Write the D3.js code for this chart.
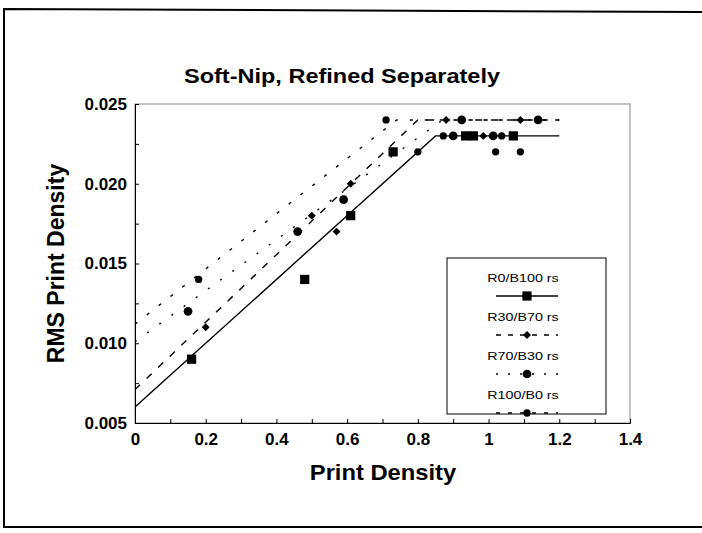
<!DOCTYPE html>
<html>
<head>
<meta charset="utf-8">
<script src="https://cdn.jsdelivr.net/npm/d3@7"></script>
<style>
  body { margin: 0; background: #fff; }
  svg text { font-family: "Liberation Sans", Arial, sans-serif; fill: #000; }
</style>
</head>
<body>
<div id="chart"></div>
<script>
// tick labels
var xTicks = [0, 0.2, 0.4, 0.6, 0.8, 1, 1.2, 1.4];
var yTicks = [0.005, 0.010, 0.015, 0.020, 0.025];

// series (print density, rms print density)
var seriesNames = ["R0/B100 rs", "R30/B70 rs", "R70/B30 rs", "R100/B0 rs"];

var r0b100X = [0.16, 0.48, 0.61, 0.73, 0.935, 0.957, 1.07];
var r0b100Y = [0.009, 0.014, 0.018, 0.022, 0.023, 0.023, 0.023];

var r30b70X = [0.20, 0.50, 0.57, 0.61, 0.88, 0.985, 1.09];
var r30b70Y = [0.011, 0.018, 0.017, 0.020, 0.024, 0.023, 0.024];

var r70b30X = [0.15, 0.46, 0.59, 0.90, 0.924, 1.013, 1.14];
var r70b30Y = [0.012, 0.017, 0.019, 0.023, 0.024, 0.023, 0.024];

var r100b0X = [0.18, 0.71, 0.80, 0.872, 1.02, 1.037, 1.09];
var r100b0Y = [0.014, 0.024, 0.022, 0.023, 0.022, 0.023, 0.022];

// fitted broken-line trends
var r0b100FitX = [0, 0.85, 1.2];
var r0b100FitY = [0.006, 0.023, 0.023];
var r30b70FitX = [0, 0.80, 1.2];
var r30b70FitY = [0.0071, 0.024, 0.024];
var r70b30FitX = [0, 0.87, 1.2];
var r70b30FitY = [0.0101, 0.024, 0.024];
var r100b0FitX = [0, 0.74, 1.2];
var r100b0FitY = [0.0112, 0.024, 0.024];

var W = 702, H = 533;
var margin = {top: 104, right: 72, bottom: 110, left: 135};
var width = W - margin.left - margin.right;
var height = H - margin.top - margin.bottom;

var svg = d3.select("#chart").append("svg")
    .attr("width", W)
    .attr("height", H);

// outer frame (right edge is cut off)
svg.append("path")
  .attr("fill", "none")
  .attr("stroke", "#000")
  .attr("stroke-width", 2)
  .attr("d", "M" + (W + 2) + ",12 L4,9 L4,527 L" + (W + 2) + ",527");

svg.append("text")
  .attr("transform", "translate(342,83) scale(1.12,1)")
  .attr("text-anchor", "middle")
  .attr("font-size", 21)
  .attr("font-weight", "bold")
  .text("Soft-Nip, Refined Separately");

var g = svg.append("g")
  .attr("transform", "translate(" + margin.left + "," + margin.top + ")");

var x = d3.scaleLinear().domain([0, 1.4]).range([0, width]);
var y = d3.scaleLinear().domain([0.005, 0.025]).range([height, 0]);

// plot border
g.append("rect")
  .attr("width", width)
  .attr("height", height)
  .attr("fill", "none")
  .attr("stroke", "#888")
  .attr("stroke-width", 1);

// axes with inward ticks
var xAxis = g.append("g")
  .attr("transform", "translate(0," + height + ")")
  .call(d3.axisBottom(x).tickValues(d3.range(0, 1.45, 0.1)).tickSize(-4).tickFormat(""));
xAxis.select(".domain").attr("stroke", "#000");

g.append("g")
  .attr("transform", "translate(0," + height + ")")
  .call(d3.axisBottom(x).tickValues(xTicks).tickSize(0).tickPadding(10).tickFormat(d3.format("")))
  .call(a => a.select(".domain").remove())
  .selectAll("text")
  .attr("font-size", 17)
  .attr("font-weight", "bold");

var yAxis = g.append("g")
  .call(d3.axisLeft(y).tickValues(d3.range(0.005, 0.0251, 0.0025)).tickSize(-4).tickFormat(""));
yAxis.select(".domain").attr("stroke", "#000");

g.append("g")
  .call(d3.axisLeft(y).tickValues(yTicks).tickSize(0).tickPadding(8).tickFormat(d3.format(".3f")))
  .call(a => a.select(".domain").remove())
  .selectAll("text")
  .attr("font-size", 17)
  .attr("font-weight", "bold");

svg.append("text")
  .attr("transform", "translate(383,480) scale(1.08,1)")
  .attr("text-anchor", "middle")
  .attr("font-size", 22)
  .attr("font-weight", "bold")
  .text("Print Density");

svg.append("text")
  .attr("transform", "translate(64," + (margin.top + height / 2) + ") rotate(-90)")
  .attr("text-anchor", "middle")
  .attr("font-size", 23)
  .attr("font-weight", "bold")
  .text("RMS Print Density");

var series = [
  {xs: r0b100X, ys: r0b100Y, fx: r0b100FitX, fy: r0b100FitY, dash: null, sym: d3.symbolSquare, size: 85},
  {xs: r30b70X, ys: r30b70Y, fx: r30b70FitX, fy: r30b70FitY, dash: "7,9", sym: d3.symbolDiamond2, size: 40},
  {xs: r70b30X, ys: r70b30Y, fx: r70b30FitX, fy: r70b30FitY, dash: "2,13", sym: d3.symbolCircle, size: 60},
  {xs: r100b0X, ys: r100b0Y, fx: r100b0FitX, fy: r100b0FitY, dash: "3,12", sym: d3.symbolCircle, size: 42}
];
var legendDash = [null, "5,7", "2,10", "4,8"];

var line = d3.line()
  .x(d => x(d[0]))
  .y(d => y(d[1]));

series.forEach(function(s) {
  g.append("path")
    .attr("fill", "none")
    .attr("stroke", "#000")
    .attr("stroke-width", 1.4)
    .attr("stroke-dasharray", s.dash)
    .attr("d", line(d3.zip(s.fx, s.fy)));

  g.selectAll(null)
    .data(d3.zip(s.xs, s.ys))
    .enter().append("path")
    .attr("transform", d => "translate(" + x(d[0]) + "," + y(d[1]) + ")")
    .attr("d", d3.symbol().type(s.sym).size(s.size))
    .attr("fill", "#000");
});

// legend
var lg = svg.append("g").attr("transform", "translate(447,258)");
lg.append("rect")
  .attr("width", 159)
  .attr("height", 156)
  .attr("fill", "#fff")
  .attr("stroke", "#000")
  .attr("stroke-width", 1);

series.forEach(function(s, i) {
  var ty = 24 + i * 39;
  lg.append("text")
    .attr("transform", "translate(76," + ty + ") scale(1.3,1)")
    .attr("text-anchor", "middle")
    .attr("font-size", 11)
    .text(seriesNames[i]);
  lg.append("line")
    .attr("x1", 49).attr("x2", 111)
    .attr("y1", ty + 14).attr("y2", ty + 14)
    .attr("stroke", "#000")
    .attr("stroke-width", 1.4)
    .attr("stroke-dasharray", legendDash[i]);
  lg.append("path")
    .attr("transform", "translate(80," + (ty + 14) + ")")
    .attr("d", d3.symbol().type(s.sym).size(s.size))
    .attr("fill", "#000");
});
</script>
</body>
</html>
